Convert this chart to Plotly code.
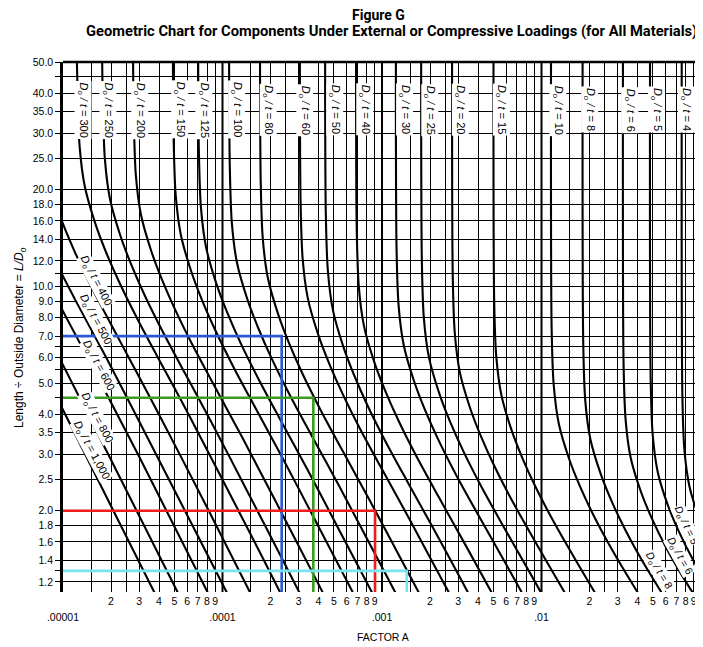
import numpy as np
import plotly.graph_objects as go

# ---------------- data ----------------
# each Do/t curve: L/Do values and matching Factor A values
LD_1000 = [5.0, 2.0, 1.05]
A_1000 = [8.24e-6, 2.07e-5, 3.97e-5]
LD_800 = [7.0, 3.0, 1.05]
A_800 = [8.1e-6, 1.92e-5, 5.56e-5]
LD_600 = [12.0, 10.0, 7.0, 3.0, 1.05]
A_600 = [6.8e-6, 8.25e-6, 1.21e-5, 2.95e-5, 8.57e-5]
LD_500 = [14.0, 11.0, 9.0, 6.0, 3.0, 1.05]
A_500 = [7.74e-6, 9.77e-6, 1.205e-5, 1.866e-5, 3.83e-5, 1.13e-4]
LD_400 = [20.0, 16.0, 13.0, 10.0, 7.0, 4.0, 2.0, 1.05]
A_400 = [8.44e-6, 9.83e-6, 1.17e-5, 1.50e-5, 2.19e-5, 3.99e-5, 8.2e-5, 1.58e-4]
LD_300 = [50, 40.97, 27.3, 20.5, 15.77, 12.82, 10.26, 7.90, 5.87, 4.12, 2.585, 1.488, 1.05]
A_300 = [1.222e-5, 1.234e-5, 1.271e-5, 1.369e-5, 1.589e-5, 1.857e-5, 2.261e-5, 2.933e-5, 4.033e-5, 5.927e-5, 9.654e-5, 1.711e-4, 2.44e-4]
LD_250 = [50, 37.4, 24.95, 18.72, 14.41, 11.71, 9.37, 7.22, 5.37, 3.77, 2.365, 1.363, 1.05]
A_250 = [1.76e-5, 1.778e-5, 1.83e-5, 1.971e-5, 2.288e-5, 2.675e-5, 3.256e-5, 4.224e-5, 5.808e-5, 8.536e-5, 1.39e-4, 2.464e-4, 3.22e-4]
LD_200 = [50, 33.45, 22.31, 16.74, 12.89, 10.48, 8.387, 6.459, 4.806, 3.374, 2.121, 1.225, 1.05]
A_200 = [2.75e-5, 2.778e-5, 2.86e-5, 3.08e-5, 3.575e-5, 4.18e-5, 5.088e-5, 6.6e-5, 9.075e-5, 1.334e-4, 2.173e-4, 3.85e-4, 4.514e-4]
LD_150 = [50, 28.98, 19.33, 14.51, 11.17, 9.08, 7.272, 5.602, 4.171, 2.931, 1.845, 1.05]
A_150 = [4.889e-5, 4.938e-5, 5.085e-5, 5.476e-5, 6.356e-5, 7.431e-5, 9.045e-5, 1.173e-4, 1.613e-4, 2.371e-4, 3.862e-4, 6.983e-4]
LD_125 = [50, 26.46, 17.65, 13.25, 10.20, 8.296, 6.645, 5.121, 3.814, 2.682, 1.691, 1.05]
A_125 = [7.04e-5, 7.11e-5, 7.322e-5, 7.885e-5, 9.152e-5, 1.07e-4, 1.302e-4, 1.69e-4, 2.323e-4, 3.414e-4, 5.562e-4, 9.212e-4]
LD_100 = [50, 23.69, 15.8, 11.87, 9.137, 7.433, 5.955, 4.591, 3.422, 2.409, 1.523, 1.05]
A_100 = [1.1e-4, 1.111e-4, 1.144e-4, 1.232e-4, 1.43e-4, 1.672e-4, 2.035e-4, 2.64e-4, 3.63e-4, 5.335e-4, 8.69e-4, 1.29e-3]
LD_80 = [50, 21.19, 14.14, 10.62, 8.181, 6.656, 5.335, 4.116, 3.07, 2.164, 1.372, 1.05]
A_80 = [1.719e-4, 1.736e-4, 1.788e-4, 1.925e-4, 2.235e-4, 2.613e-4, 3.18e-4, 4.126e-4, 5.673e-4, 8.337e-4, 1.358e-3, 1.81e-3]
LD_60 = [50, 18.36, 12.26, 9.211, 7.099, 5.779, 4.635, 3.578, 2.673, 1.889, 1.202, 1.05]
A_60 = [3.056e-4, 3.087e-4, 3.178e-4, 3.423e-4, 3.973e-4, 4.645e-4, 5.654e-4, 7.334e-4, 1.0086e-3, 1.482e-3, 2.414e-3, 2.8e-3]
LD_50 = [50, 16.78, 11.21, 8.42, 6.492, 5.287, 4.242, 3.278, 2.451, 1.735, 1.108, 1.05]
A_50 = [4.4e-4, 4.444e-4, 4.576e-4, 4.928e-4, 5.72e-4, 6.688e-4, 8.14e-4, 1.056e-3, 1.452e-3, 2.134e-3, 3.476e-3, 3.67e-3]
LD_40 = [50, 15.02, 10.04, 7.545, 5.82, 4.742, 3.808, 2.946, 2.206, 1.566, 1.05]
A_40 = [6.875e-4, 6.944e-4, 7.15e-4, 7.7e-4, 8.938e-4, 1.045e-3, 1.272e-3, 1.65e-3, 2.269e-3, 3.334e-3, 5.19e-3]
LD_30 = [50, 13.03, 8.715, 6.557, 5.063, 4.129, 3.32, 2.572, 1.932, 1.377, 1.05]
A_30 = [1.222e-3, 1.234e-3, 1.271e-3, 1.369e-3, 1.589e-3, 1.857e-3, 2.261e-3, 2.933e-3, 4.033e-3, 5.927e-3, 8.03e-3]
LD_25 = [50, 11.91, 7.969, 5.999, 4.635, 3.783, 3.045, 2.363, 1.778, 1.272, 1.05]
A_25 = [1.76e-3, 1.778e-3, 1.83e-3, 1.971e-3, 2.288e-3, 2.675e-3, 3.256e-3, 4.224e-3, 5.808e-3, 8.536e-3, 1.06e-2]
LD_20 = [50, 10.67, 7.147, 5.386, 4.166, 3.404, 2.743, 2.133, 1.611, 1.158, 1.05]
A_20 = [2.75e-3, 2.778e-3, 2.86e-3, 3.08e-3, 3.575e-3, 4.18e-3, 5.088e-3, 6.6e-3, 9.075e-3, 1.334e-2, 1.493e-2]
LD_15 = [50, 9.068, 6.084, 4.592, 3.559, 2.914, 2.354, 1.838, 1.395, 1.05]
A_15 = [5.0e-3, 5.05e-3, 5.2e-3, 5.6e-3, 6.5e-3, 7.6e-3, 9.25e-3, 1.2e-2, 1.65e-2, 2.315e-2]
LD_10 = [50, 7.31, 4.921, 3.726, 2.899, 2.382, 1.934, 1.521, 1.166, 1.05]
A_10 = [1.147e-2, 1.158e-2, 1.193e-2, 1.285e-2, 1.491e-2, 1.743e-2, 2.122e-2, 2.753e-2, 3.785e-2, 4.318e-2]
LD_8 = [50, 6.507, 4.391, 3.333, 2.601, 2.143, 1.746, 1.38, 1.066]
A_8 = [1.81e-2, 1.828e-2, 1.882e-2, 2.027e-2, 2.353e-2, 2.751e-2, 3.349e-2, 4.344e-2, 5.973e-2]
LD_6 = [50, 5.644, 3.824, 2.914, 2.284, 1.89, 1.549, 1.234, 1.05]
A_6 = [3.24e-2, 3.272e-2, 3.37e-2, 3.629e-2, 4.212e-2, 4.925e-2, 5.994e-2, 7.776e-2, 9.56e-2]
LD_5 = [50, 5.057, 3.438, 2.629, 2.069, 1.719, 1.415, 1.135, 1.01]
A_5 = [4.79e-2, 4.838e-2, 4.982e-2, 5.365e-2, 6.227e-2, 7.281e-2, 8.862e-2, 0.115, 0.132]
LD_4 = [50, 4.519, 3.088, 2.372, 1.877, 1.567, 1.299]
A_4 = [7.57e-2, 7.646e-2, 7.873e-2, 8.478e-2, 9.841e-2, 0.1151, 0.14]

# labels of the vertical (upper) parts of the curves
TOP_LABELS = ["300", "250", "200", "150", "125", "100", "80", "60", "50", "40",
              "30", "25", "20", "15", "10", "8", "6", "5", "4"]
TOP_LABEL_A = [1.34e-5, 1.92e-5, 3.04e-5, 5.41e-5, 7.66e-5, 1.23e-4, 1.94e-4, 3.29e-4,
               5.07e-4, 7.82e-4, 1.39e-3, 2.0e-3, 3.11e-3, 5.63e-3, 1.27e-2, 2.01e-2,
               3.59e-2, 5.28e-2, 8.13e-2]
TOP_LABEL_LD = 35.5

# labels along the straight lines at lower left
DIAG_LABELS = ["400", "500", "600", "800", "1,000"]
DIAG_LABEL_A = [1.61e-5, 1.59e-5, 1.66e-5, 1.63e-5, 1.50e-5]
DIAG_LABEL_LD = [10.4, 7.91, 5.69, 3.89, 3.09]

# labels at lower right
BR_LABELS = ["5", "6", "8"]
BR_LABEL_A = [0.0806, 0.0735, 0.0545]
BR_LABEL_LD = [1.81, 1.445, 1.30]
BR_LABEL_ANGLE = [65, 61, 59]

# coloured example read-outs
EX_LD = [7.0, 4.5, 2.0, 1.3]
EX_A = [2.35e-4, 3.71e-4, 9.04e-4, 1.43e-3]
EX_COLORS = ["#2a57d3", "#3c9a1e", "#ee1c1c", "#7ae3f0"]

# axis ticks
DECADES = [1e-5, 1e-4, 1e-3, 1e-2, 1e-1]
DECADE_LABELS = [".00001", ".0001", ".001", ".01", ".1"]
MINOR_MULTS = [2, 3, 4, 5, 6, 7, 8, 9]
GRID_ONLY_MULTS = [1.5, 2.5]
Y_TICKS = [1.2, 1.4, 1.6, 1.8, 2.0, 2.5, 3.0, 3.5, 4.0, 5.0, 6.0, 7.0, 8.0, 9.0, 10.0,
           12.0, 14.0, 16.0, 18.0, 20.0, 25.0, 30.0, 35.0, 40.0, 50.0]
Y_GRID_ONLY = [1.3, 4.5, 5.5, 6.5, 11.0, 45.0]

X_RANGE_LOG = [-5.0, -0.9875]
Y_RANGE_LOG = [0.048, 1.699]

CURVES = [
    (LD_1000, A_1000), (LD_800, A_800), (LD_600, A_600), (LD_500, A_500), (LD_400, A_400),
    (LD_300, A_300), (LD_250, A_250), (LD_200, A_200), (LD_150, A_150), (LD_125, A_125),
    (LD_100, A_100), (LD_80, A_80), (LD_60, A_60), (LD_50, A_50), (LD_40, A_40),
    (LD_30, A_30), (LD_25, A_25), (LD_20, A_20), (LD_15, A_15), (LD_10, A_10),
    (LD_8, A_8), (LD_6, A_6), (LD_5, A_5), (LD_4, A_4),
]

FONT = "Liberation Sans, Arial, Helvetica, sans-serif"
PAGE_OFFSET = 8          # the html body margin of the page
PAGE_W, PAGE_H = 703, 647
PLOT_L, PLOT_T, PLOT_W, PLOT_H = 63, 62, 640, 530   # page pixels
FIG_W, FIG_H = PAGE_W - PAGE_OFFSET, PAGE_H - PAGE_OFFSET


def px_to_paper(px, py):
    return (px - PLOT_L) / PLOT_W, (PLOT_T + PLOT_H - py) / PLOT_H


fig = go.Figure()

# heavier decade grid lines
for d in DECADES[1:4]:
    fig.add_trace(go.Scatter(x=[d, d], y=[10 ** Y_RANGE_LOG[0], 10 ** Y_RANGE_LOG[1]],
                             mode="lines", line=dict(color="black", width=2.0),
                             hoverinfo="skip", showlegend=False))

for ld, a in CURVES:
    fig.add_trace(go.Scatter(x=a, y=ld, mode="lines",
                             line=dict(color="black", width=2.1, shape="spline", smoothing=0.8),
                             showlegend=False, hoverinfo="skip"))

ybot = 10 ** Y_RANGE_LOG[0]
for ld, a, col in zip(EX_LD, EX_A, EX_COLORS):
    fig.add_trace(go.Scatter(x=[DECADES[0], a, a], y=[ld, ld, ybot], mode="lines",
                             line=dict(color=col, width=2.6), showlegend=False,
                             hoverinfo="skip"))


# ticks (font 12 sets the line spacing; glyphs drawn at 10.5px)
def small(s):
    return "<span style='font-size:10.5px'>" + s + "</span>"


xt_vals, xt_text = [], []
for d, lab in zip(DECADES, DECADE_LABELS):
    xt_vals.append(d)
    xt_text.append(" <br>" + small(lab))
    for m in GRID_ONLY_MULTS:
        if d * m < 10 ** X_RANGE_LOG[1]:
            xt_vals.append(d * m)
            xt_text.append("")
    for m in MINOR_MULTS:
        if d * m < 10 ** X_RANGE_LOG[1]:
            xt_vals.append(d * m)
            xt_text.append(small(str(m)))

yt_vals = Y_TICKS + Y_GRID_ONLY
yt_text = ["%.1f" % v for v in Y_TICKS] + [""] * len(Y_GRID_ONLY)

annotations = []
label_font = dict(family=FONT, size=11, color="black")
for lab, a in zip(TOP_LABELS, TOP_LABEL_A):
    annotations.append(dict(x=np.log10(a), y=np.log10(TOP_LABEL_LD), xref="x", yref="y",
                            text="<i>D<sub>o</sub> / t</i> = " + lab, textangle=90,
                            xanchor="center", yanchor="middle",
                            showarrow=False, font=label_font, bgcolor="white", borderpad=1))
for lab, a, ld in zip(DIAG_LABELS, DIAG_LABEL_A, DIAG_LABEL_LD):
    annotations.append(dict(x=np.log10(a), y=np.log10(ld), xref="x", yref="y",
                            text="<i>D<sub>o</sub> / t</i> = " + lab, textangle=62,
                            xanchor="center", yanchor="middle",
                            showarrow=False, font=label_font, bgcolor="white", borderpad=0))
for lab, a, ld, ang in zip(BR_LABELS, BR_LABEL_A, BR_LABEL_LD, BR_LABEL_ANGLE):
    annotations.append(dict(x=np.log10(a), y=np.log10(ld), xref="x", yref="y",
                            text="<i>D<sub>o</sub> / t</i> = " + lab, textangle=ang,
                            xanchor="center", yanchor="middle",
                            showarrow=False, font=dict(family=FONT, size=10.5, color="black"),
                            bgcolor="white", borderpad=0))

# titles
tx, ty = px_to_paper(378, 15.5)
annotations.append(dict(x=tx, y=ty, xref="paper", yref="paper", xanchor="center",
                        yanchor="middle", text="<b>Figure G</b>", showarrow=False,
                        font=dict(family="Roboto, sans-serif", size=14, color="black")))
tx, ty = px_to_paper(391, 31)
annotations.append(dict(x=tx, y=ty, xref="paper", yref="paper", xanchor="center",
                        yanchor="middle",
                        text="<b>Geometric Chart for Components Under External or Compressive Loadings (for All Materials)</b>",
                        showarrow=False,
                        font=dict(family="Roboto, sans-serif", size=14.7, color="black")))
tx, ty = px_to_paper(20, 338)
annotations.append(dict(x=tx, y=ty, xref="paper", yref="paper", xanchor="center",
                        yanchor="middle",
                        text="Length ÷ Outside Diameter = <i>L/D<sub>o</sub></i>", textangle=-90,
                        showarrow=False, font=dict(family=FONT, size=12, color="black")))
tx, ty = px_to_paper(383, 637)
annotations.append(dict(x=tx, y=ty, xref="paper", yref="paper", xanchor="center",
                        yanchor="middle", text="FACTOR A", showarrow=False,
                        font=dict(family=FONT, size=10.5, color="black")))

fig.update_layout(
    width=FIG_W, height=FIG_H,
    margin=dict(l=PLOT_L - PAGE_OFFSET, r=FIG_W - (PLOT_L - PAGE_OFFSET) - PLOT_W,
                t=PLOT_T - PAGE_OFFSET, b=FIG_H - (PLOT_T - PAGE_OFFSET) - PLOT_H,
                autoexpand=False),
    paper_bgcolor="white", plot_bgcolor="white",
    showlegend=False,
    annotations=annotations,
    shapes=[dict(type="line", xref="paper", yref="paper", x0=0, x1=1, y0=1, y1=1,
                 line=dict(color="black", width=2.5))],
    xaxis=dict(type="log", range=X_RANGE_LOG, tickmode="array", tickvals=xt_vals,
               ticktext=xt_text, showgrid=True, gridcolor="black", gridwidth=1.1,
               ticks="", showline=False, zeroline=False, tickangle=0, automargin=False,
               ticklabelstandoff=0, ticklabeloverflow="allow",
               tickfont=dict(family=FONT, size=12, color="black")),
    yaxis=dict(type="log", range=Y_RANGE_LOG, tickmode="array", tickvals=yt_vals,
               ticktext=yt_text, showgrid=True, gridcolor="black", gridwidth=1.1,
               ticks="outside", ticklen=5, tickwidth=1.1, tickcolor="black",
               showline=True, linecolor="black", linewidth=2.5, automargin=False,
               zeroline=False, tickfont=dict(family=FONT, size=10.5, color="black")),
)

fig.write_html("out.html")
